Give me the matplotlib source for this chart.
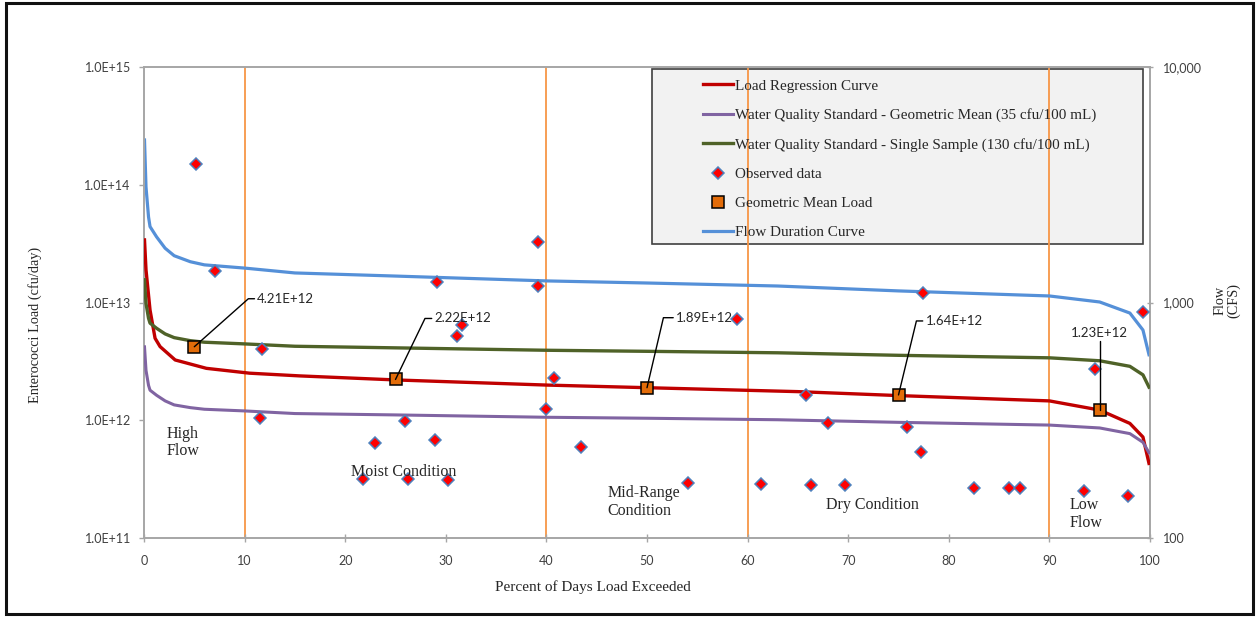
import matplotlib
matplotlib.use('Agg')
import matplotlib.pyplot as plt
from matplotlib.patches import Rectangle
from matplotlib.ticker import FixedLocator, FuncFormatter, NullLocator

# ---------------- data ----------------
flow_pct = [0.05, 0.2, 0.45, 0.6, 1.25, 2.1, 3, 4.6, 6, 10, 15, 25, 40, 50, 63, 75, 90, 95, 98, 99.3, 99.9]
flow_cfs = [4900, 3090, 2310, 2100, 1900, 1700, 1580, 1490, 1445, 1400, 1335, 1295, 1235, 1210, 1175,
            1120, 1066, 1005, 902, 764, 600]

wqs_geo_load = [4.20e12, 2.65e12, 1.98e12, 1.80e12, 1.63e12, 1.46e12, 1.35e12, 1.28e12, 1.24e12, 1.20e12,
                1.14e12, 1.11e12, 1.06e12, 1.04e12, 1.01e12, 9.6e11, 9.1e11, 8.6e11, 7.7e11, 6.5e11, 5.3e11]
wqs_single_load = [1.56e13, 9.8e12, 7.35e12, 6.68e12, 6.04e12, 5.41e12, 5.03e12, 4.74e12, 4.60e12, 4.45e12,
                   4.25e12, 4.12e12, 3.93e12, 3.85e12, 3.74e12, 3.56e12, 3.39e12, 3.20e12, 2.87e12,
                   2.43e12, 1.91e12]

reg_pct = [0.05, 0.2, 0.6, 1.1, 1.6, 3.1, 6.2, 10.5, 15.5, 25, 40, 50, 65, 75, 90, 95, 98, 99.3, 99.9]
reg_load = [3.40e13, 1.89e13, 8.63e12, 4.97e12, 4.22e12, 3.25e12, 2.76e12, 2.51e12, 2.38e12, 2.20e12,
            1.99e12, 1.89e12, 1.75e12, 1.62e12, 1.46e12, 1.22e12, 9.4e11, 7.2e11, 4.3e11]

obs_pct = [5.17, 7.06, 11.7, 11.53, 21.74, 22.96, 25.94, 26.27, 28.93, 29.16, 30.25, 31.58, 31.15,
           39.14, 39.14, 40.76, 39.93, 43.44, 54.1, 58.92, 61.3, 65.8, 66.3, 68.0, 69.7, 75.8, 77.2,
           77.4, 82.5, 86.0, 87.1, 93.4, 94.5, 97.8, 99.3]
obs_load = [1.50e14, 1.85e13, 4.03e12, 1.04e12, 3.17e11, 6.37e11, 9.86e11, 3.15e11, 6.8e11, 1.49e13,
            3.11e11, 6.44e12, 5.19e12, 1.38e13, 3.28e13, 2.27e12, 1.24e12, 5.97e11, 2.91e11, 7.19e12,
            2.86e11, 1.64e12, 2.82e11, 9.53e11, 2.82e11, 8.71e11, 5.41e11, 1.20e13, 2.64e11, 2.64e11,
            2.64e11, 2.52e11, 2.71e12, 2.28e11, 8.36e12]

gm_pct = [5, 25, 50, 75, 95]
gm_load = [4.21e12, 2.22e12, 1.89e12, 1.64e12, 1.23e12]

zone_bounds = [10, 40, 60, 90]
zone_labels = ["High\nFlow", "Moist Condition", "Mid-Range\nCondition", "Dry Condition", "Low\nFlow"]
zone_pos = [(2.2, 6.5e11), (25.8, 3.64e11), (46.1, 2.02e11), (67.8, 1.91e11), (92.0, 1.6e11)]
zone_ha = ['left', 'center', 'left', 'left', 'left']

x_ticks = list(range(0, 101, 10))
left_ticks = [1e11, 1e12, 1e13, 1e14, 1e15]
right_ticks = [100, 1000, 10000]

# ---------------- styles ----------------
SERIF = 'Liberation Serif'
SANS = 'Lato'
C_RED = '#C00000'
C_PURPLE = '#8064A2'
C_GREEN = '#4F6228'
C_BLUE = '#5590D8'
C_ORANGE = '#F79646'
C_GM = '#E36C09'
C_SPINE = '#A6A6A6'
C_TXT = '#404040'

W, H = 1257, 617
fig = plt.figure(figsize=(W / 100, H / 100), dpi=100)
ax = fig.add_axes([144 / W, 1 - 538 / H, (1150 - 144) / W, (538 - 67) / H])
ax2 = ax.twinx()

ax.set_zorder(2)
ax2.set_zorder(1)
ax.patch.set_visible(False)

for b in zone_bounds:
    ax2.axvline(b, color=C_ORANGE, lw=1.3, zorder=1)

l_fdc, = ax2.plot(flow_pct, flow_cfs, color=C_BLUE, lw=2.3, zorder=2, label='Flow Duration Curve')
l_reg, = ax.plot(reg_pct, reg_load, color=C_RED, lw=2.4, zorder=3, label='Load Regression Curve')
l_geo, = ax.plot(flow_pct, wqs_geo_load, color=C_PURPLE, lw=2.2, zorder=3,
                 label='Water Quality Standard - Geometric Mean (35 cfu/100 mL)')
l_sgl, = ax.plot(flow_pct, wqs_single_load, color=C_GREEN, lw=2.4, zorder=3,
                 label='Water Quality Standard - Single Sample (130 cfu/100 mL)')
l_obs, = ax.plot(obs_pct, obs_load, linestyle='none', marker='D', markersize=6.2,
                 markerfacecolor='#FF0000', markeredgecolor='#4F81BD', markeredgewidth=1.1,
                 zorder=4, label='Observed data')
l_gm, = ax.plot(gm_pct, gm_load, linestyle='none', marker='s', markersize=8.5,
                markerfacecolor=C_GM, markeredgecolor='black', markeredgewidth=1.1,
                zorder=5, label='Geometric Mean Load')

# annotations for geometric mean loads
offsets = [(63, 48), (39, 61), (29, 70), (27, 74), (0, 77)]
angles = [41.6, 64.2, 76.8, 76.4, 90]
for xv, yv, (dx, dy), ang in zip(gm_pct, gm_load, offsets, angles):
    ha = 'center' if dx == 0 else 'left'
    ax.annotate(f"{yv:.2E}", xy=(xv, yv), xytext=(dx, dy), textcoords='offset pixels',
                ha=ha, va='center', fontsize=9.5, family=SANS, color='#262626', zorder=6,
                arrowprops=dict(arrowstyle='-', color='black', lw=1.0, shrinkA=0, shrinkB=0,
                                connectionstyle=f"angle,angleA=0,angleB={ang},rad=0"))

for txt, (xv, yv), ha in zip(zone_labels, zone_pos, zone_ha):
    ax.text(xv, yv, txt, ha=ha, va='center', fontsize=11.5, family=SERIF, color='#262626',
            linespacing=1.12, zorder=6)

# axes scales
ax.set_xlim(0, 100)
ax.set_yscale('log')
ax.set_ylim(1e11, 1e15)
ax2.set_yscale('log')
ax2.set_ylim(100, 10000)

ax.xaxis.set_major_locator(FixedLocator(x_ticks))
ax.yaxis.set_major_locator(FixedLocator(left_ticks))
ax.yaxis.set_minor_locator(NullLocator())
ax.yaxis.set_major_formatter(FuncFormatter(lambda v, p: f"{v:.1E}"))
ax2.yaxis.set_major_locator(FixedLocator(right_ticks))
ax2.yaxis.set_minor_locator(NullLocator())
ax2.yaxis.set_major_formatter(FuncFormatter(lambda v, p: f"{v:,.0f}"))

for a in (ax, ax2):
    for s in a.spines.values():
        s.set_color(C_SPINE)
        s.set_linewidth(1.2)

ax.tick_params(axis='x', direction='inout', length=6, width=1, color=C_SPINE, pad=9,
               labelsize=9, labelcolor=C_TXT)
ax.tick_params(axis='y', direction='out', length=3.5, width=1, color=C_SPINE, pad=6,
               labelsize=9, labelcolor=C_TXT)
ax2.tick_params(axis='y', direction='inout', length=5, width=1, color=C_SPINE, pad=7,
                labelsize=9, labelcolor=C_TXT)
for lab in ax.get_xticklabels() + ax.get_yticklabels() + ax2.get_yticklabels():
    lab.set_family(SANS)

ax.set_xlabel('Percent of Days Load Exceeded', family=SERIF, fontsize=11, color='#262626')
ax.xaxis.label.set_va('center')
ax.xaxis.set_label_coords((593 - 144) / 1006, -(587 - 538) / 471)
ax.set_ylabel('Enterococci Load (cfu/day)', family=SERIF, fontsize=10.3, color='#262626')
ax.yaxis.label.set_va('center')
ax.yaxis.set_label_coords((35 - 144) / 1006, (538 - 325) / 471)
ax2.set_ylabel('Flow\n(CFS)', family=SERIF, fontsize=10.3, color='#262626', linespacing=1.0)
ax2.yaxis.label.set_va('center')
ax2.yaxis.label.set_multialignment('center')
ax2.yaxis.set_label_coords((1227 - 144) / 1006, (538 - 300) / 471)

# legend
fig.patches.append(Rectangle((652 / W, 1 - 244 / H), (1143 - 652) / W, (244 - 69) / H,
                             transform=fig.transFigure, facecolor='#F2F2F2', edgecolor='#404040',
                             lw=1.2, zorder=0))
handles = [l_reg, l_geo, l_sgl, l_obs, l_gm, l_fdc]
leg = fig.legend(handles=handles, labels=[h.get_label() for h in handles],
                 loc='upper left', bbox_to_anchor=(703 / W, 1 - 79 / H), frameon=False,
                 borderpad=0, borderaxespad=0, handlelength=1.95, handletextpad=0.15,
                 labelspacing=1.03, prop={'family': SERIF, 'size': 10.9})
for t in leg.get_texts():
    t.set_color('#262626')

# outer frame
fig.patches.append(Rectangle((6 / W, 1 - 614 / H), (1253 - 6) / W, (614 - 3) / H,
                             transform=fig.transFigure, fill=False, edgecolor='#111111', lw=2.2))

fig.savefig('out.png', dpi=100)
